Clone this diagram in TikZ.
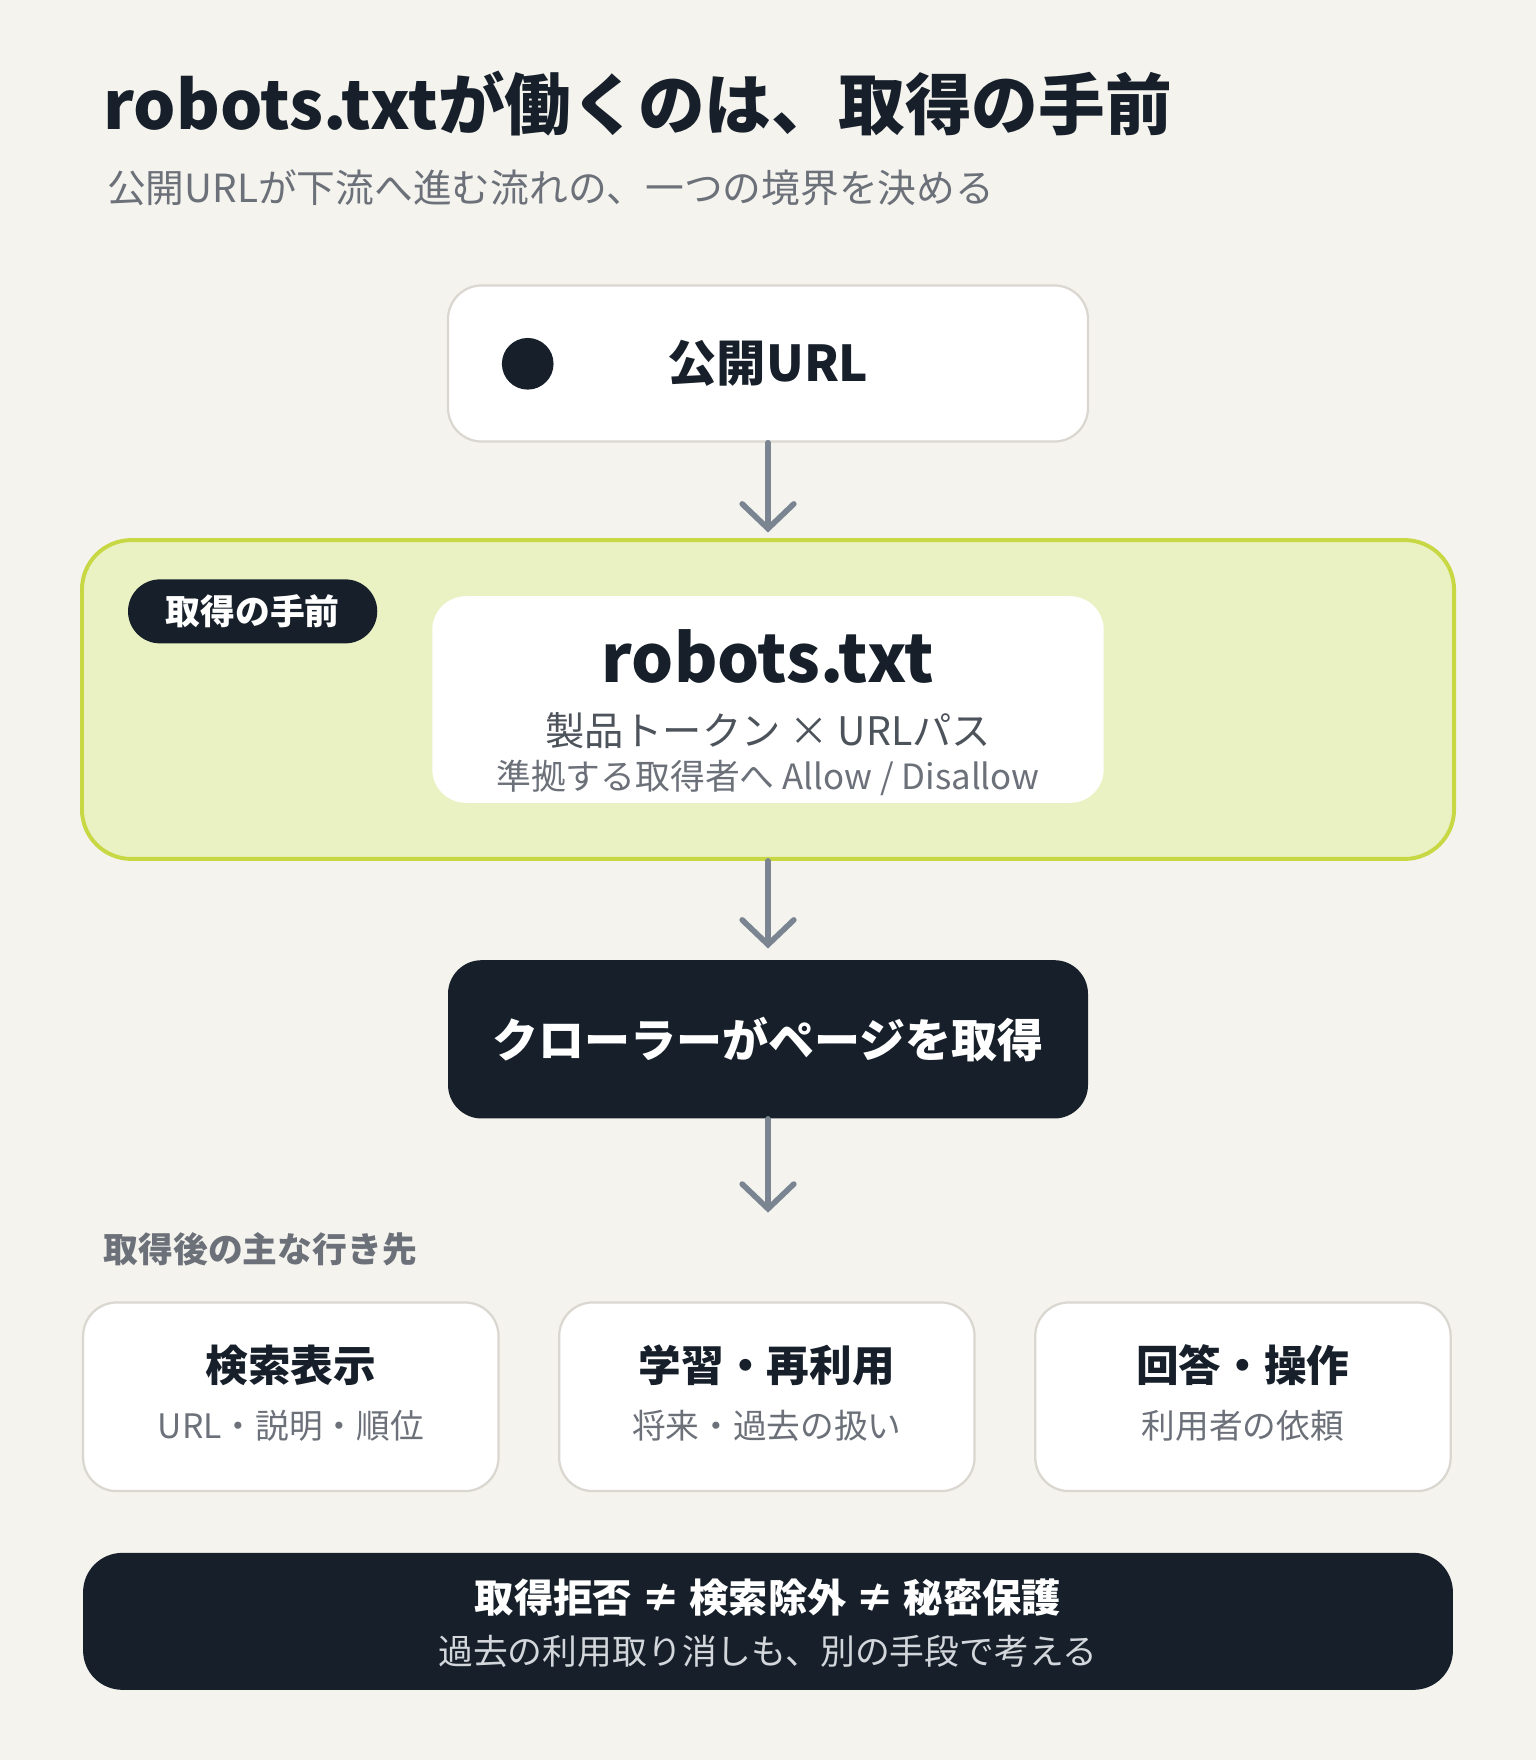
\documentclass[tikz,border=0pt]{standalone}
\usepackage{fontspec}
\setmainfont{Noto Sans CJK JP}
\usetikzlibrary{positioning,arrows.meta}
\definecolor{paper}{HTML}{F4F3EE}
\definecolor{ink}{HTML}{17202A}
\definecolor{cardline}{HTML}{D9D7CF}
\definecolor{flowgray}{HTML}{7A8591}
\definecolor{gatefill}{HTML}{EAF2C4}
\definecolor{gateline}{HTML}{C8D844}
\definecolor{mute}{HTML}{6B7079}
\definecolor{mutedark}{HTML}{4D535B}
\definecolor{lightmute}{HTML}{D3D7DC}
\newcommand{\fs}[1]{\fontsize{#1}{#1}\selectfont}
\begin{document}
\begin{tikzpicture}[x=0.5pt,y=-0.5pt,
  >={Straight Barb[length=11pt,width=23pt,line cap=round]},
  flow/.style={->,draw=flowgray,line width=2.5pt,line cap=round},
  card/.style={rectangle,rounded corners=15pt,draw=cardline,line width=1pt,fill=white},
  darkcard/.style={rectangle,rounded corners=15pt,fill=ink,text=white},
  head/.style={font=\bfseries\fs{19pt},text=ink},
  sub/.style={font=\fs{15pt},text=mute},
  left text/.style={anchor=base west,inner sep=0pt}
  ]

  \fill[paper] (0,0) rectangle (1368,1567.5);
  \useasboundingbox (0,0) rectangle (1368,1567.5);

  % heading
  \node[left text,font=\bfseries\fs{29.7pt},text=ink] (title) at (92,115) {robots.txtが働くのは、取得の手前};
  \node[left text,font=\fs{17.25pt},text=mute] (subtitle) at (95,180) {公開URLが下流へ進む流れの、一つの境界を決める};

  % the boundary
  \node[rectangle,rounded corners=22pt,draw=gateline,line width=1.75pt,fill=gatefill,
    minimum width=611pt,minimum height=142pt] (gate) at (684,623) {};
  \node[rectangle,rounded corners=14.25pt,fill=ink,text=white,font=\bfseries\fs{15.5pt},
    minimum width=111pt,minimum height=28.5pt] (pill) at (225,544.5) {取得の手前};
  \node[rectangle,rounded corners=15pt,fill=white,minimum width=299pt,minimum height=92pt] (rules) at (684,623) {};
  \node[font=\bfseries\fs{29.5pt},text=ink,inner sep=0pt] (robots) at ([yshift=19pt]rules.center) {robots.txt};
  \node[font=\fs{17.5pt},text=mutedark,inner sep=0pt] (token) at ([yshift=-14pt]rules.center) {製品トークン × URLパス};
  \node[font=\fs{15.5pt},text=mute,inner sep=0pt] (allow) at ([yshift=-35pt]rules.center) {準拠する取得者へ Allow / Disallow};

  % flow
  \node[card,minimum width=285pt,minimum height=69.5pt,font=\bfseries\fs{22pt},text=ink,
    above=42.5pt of gate] (url) {公開URL};
  \node[circle,fill=ink,minimum size=23pt,inner sep=0pt] (dot) at (470,324) {};
  \node[darkcard,minimum width=285pt,minimum height=70.5pt,font=\bfseries\fs{20.5pt},
    below=44pt of gate] (crawl) {クローラーがページを取得};
  \coordinate (fork) at (684,1080);

  \draw[flow,shorten >=2.5pt] (url) -- (gate);
  \draw[flow,shorten >=5pt] (gate) -- (crawl);
  \draw[flow] (crawl) -- (fork);

  % destinations
  \node[left text,font=\bfseries\fs{15.5pt},text=mute] (after) at (92,1124) {取得後の主な行き先};
  \node[card,minimum width=185pt,minimum height=84pt] (search) at (259,1244) {};
  \node[card,minimum width=185pt,minimum height=84pt,right=26pt of search] (train) {};
  \node[card,minimum width=185pt,minimum height=84pt,right=26pt of train] (answer) {};
  \node[head] at ([yshift=14pt]search.center) {検索表示};
  \node[sub] at ([yshift=-13pt]search.center) {URL・説明・順位};
  \node[head] at ([yshift=14pt]train.center) {学習・再利用};
  \node[sub] at ([yshift=-13pt]train.center) {将来・過去の扱い};
  \node[head] at ([yshift=14pt]answer.center) {回答・操作};
  \node[sub] at ([yshift=-13pt]answer.center) {利用者の依頼};

  % note
  \node[darkcard,rounded corners=17.5pt,minimum width=610pt,minimum height=61pt] (note) at (684,1444) {};
  \node[font=\bfseries\fs{17.5pt},text=white] at ([yshift=10.5pt]note.center) {取得拒否 ≠ 検索除外 ≠ 秘密保護};
  \node[font=\fs{15.5pt},text=lightmute] at ([yshift=-13.5pt]note.center) {過去の利用取り消しも、別の手段で考える};
\end{tikzpicture}
\end{document}
